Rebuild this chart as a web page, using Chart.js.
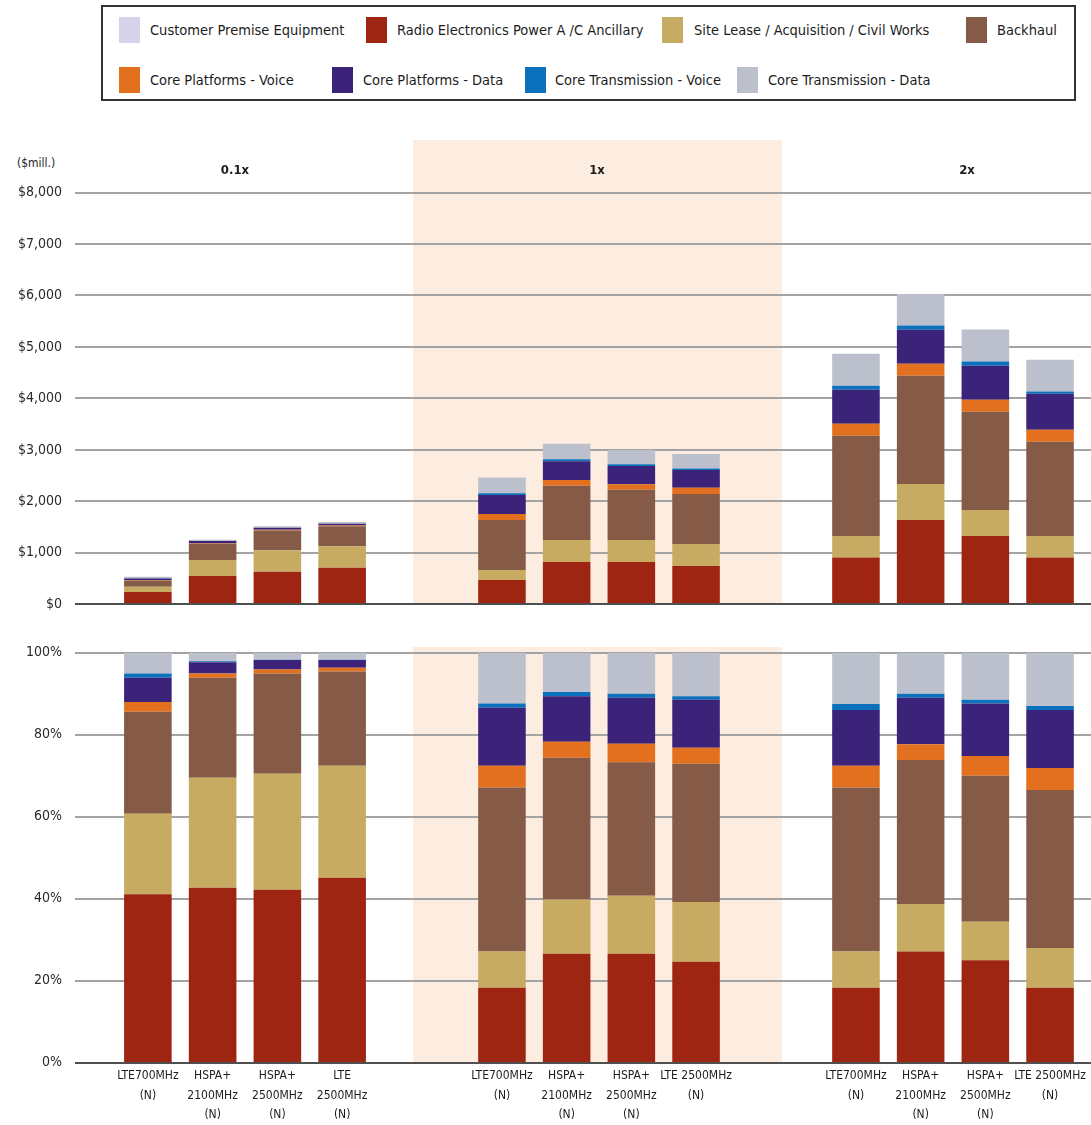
<!DOCTYPE html>
<html>
<head>
<meta charset="utf-8">
<script src="https://cdn.jsdelivr.net/npm/chart.js@4.4.1/dist/chart.umd.min.js"></script>
<style>
  html, body { margin: 0; padding: 0; background: #fff; }
  body { position: relative; width: 1091px; height: 1125px; overflow: hidden;
         font-family: 'DejaVu Sans Condensed', 'DejaVu Sans', sans-serif; color: #1c1c1c; }
  .abs { position: absolute; }
  #legendBox { left: 101px; top: 5px; width: 975px; height: 96px; border: 2px solid #333; box-sizing: border-box; }
  .sw { position: absolute; width: 21px; height: 26px; }
  .lt { position: absolute; font-size: 14.5px; line-height: 18px; white-space: nowrap; }
  .band { background: #fdece0; }
  .ghead { position: absolute; font-weight: bold; font-size: 13px; transform: translateX(-50%); white-space: nowrap; }
  canvas { position: absolute; display: block; }
</style>
</head>
<body>
<div id="legendBox" class="abs"></div>
<div class="abs band" style="left:413px;top:140px;width:369px;height:464px;"></div>
<div class="abs band" style="left:413px;top:647px;width:369px;height:417px;"></div>
<div class="abs" style="left:17px;top:155px;font-size:12px;line-height:16px;">($mill.)</div>

<canvas id="top0" width="413" height="480" style="left:0;top:140px"></canvas>
<canvas id="top1" width="369" height="480" style="left:413px;top:140px"></canvas>
<canvas id="top2" width="309" height="480" style="left:782px;top:140px"></canvas>
<canvas id="bot0" width="413" height="480" style="left:0;top:645px"></canvas>
<canvas id="bot1" width="369" height="480" style="left:413px;top:645px"></canvas>
<canvas id="bot2" width="309" height="480" style="left:782px;top:645px"></canvas>

<script>
// ---- data ----------------------------------------------------------------
const scenarios = ['0.1x', '1x', '2x'];

// four technologies per scenario (multi-line tick labels)
const technologies = [
  ['LTE700MHz', '(N)'], ['HSPA+', '2100MHz', '(N)'], ['HSPA+', '2500MHz', '(N)'], ['LTE', '2500MHz', '(N)'],
  ['LTE700MHz', '(N)'], ['HSPA+', '2100MHz', '(N)'], ['HSPA+', '2500MHz', '(N)'], ['LTE 2500MHz', '(N)'],
  ['LTE700MHz', '(N)'], ['HSPA+', '2100MHz', '(N)'], ['HSPA+', '2500MHz', '(N)'], ['LTE 2500MHz', '(N)']
];

const seriesNames = [
  'Customer Premise Equipment', 'Radio Electronics Power A /C Ancillary', 'Site Lease / Acquisition / Civil Works',
  'Backhaul', 'Core Platforms - Voice', 'Core Platforms - Data', 'Core Transmission - Voice', 'Core Transmission - Data'
];

const dollarTicks = [0, 1000, 2000, 3000, 4000, 5000, 6000, 7000, 8000];
const shareTicks = [0, 20, 40, 60, 80, 100];

// cost in $ millions, 12 bars: 0.1x (4), 1x (4), 2x (4)
const cpeCost        = [0, 0, 0, 0, 0, 0, 0, 0, 0, 0, 0, 0];
const radioCost      = [240, 550, 630, 710, 473, 823, 823, 745, 907, 1639, 1328, 907];
const siteCost       = [100, 310, 420, 420, 194, 428, 428, 428, 421, 700, 506, 421];
const backhaulCost   = [120, 320, 385, 385, 973, 1051, 972, 972, 1944, 2100, 1905, 1828];
const coreVoiceCost  = [12, 13, 15, 15, 116, 115, 110, 117, 234, 233, 233, 233];
const coreDataCost   = [30, 35, 35, 35, 369, 363, 356, 349, 661, 661, 661, 700];
const transVoiceCost = [5, 3, 2, 2, 33, 39, 30, 26, 77, 84, 84, 45];
const transDataCost  = [28, 25, 30, 30, 304, 298, 281, 285, 622, 609, 623, 616];

// share of total cost, %
const cpeShare        = [0, 0, 0, 0, 0, 0, 0, 0, 0, 0, 0, 0];
const radioShare      = [41.1, 42.7, 42.2, 45.1, 18.3, 26.6, 26.6, 24.6, 18.3, 27.1, 25.0, 18.3];
const siteShare       = [19.6, 26.8, 28.3, 27.3, 8.8, 13.2, 14.1, 14.6, 8.8, 11.6, 9.4, 9.7];
const backhaulShare   = [24.9, 24.4, 24.4, 23.0, 40.0, 34.6, 32.6, 33.7, 40.0, 35.1, 35.6, 38.5];
const coreVoiceShare  = [2.4, 1.0, 1.0, 0.9, 5.3, 3.9, 4.5, 3.9, 5.3, 3.9, 4.8, 5.4];
const coreDataShare   = [5.9, 2.8, 2.3, 1.9, 14.2, 11.1, 11.2, 11.7, 13.6, 11.3, 12.8, 14.1];
const transVoiceShare = [1.0, 0.2, 0.1, 0.1, 1.0, 1.0, 1.0, 0.9, 1.5, 1.0, 0.9, 1.0];
const transDataShare  = [5.1, 2.1, 1.7, 1.7, 12.4, 9.6, 10.0, 10.6, 12.5, 10.0, 11.5, 13.0];

// ---- styling ---------------------------------------------------------------
const FONT = "'DejaVu Sans Condensed', 'DejaVu Sans', sans-serif";
const colors = {
  cpe: '#d5d3e9', radio: '#9d2511', site: '#c8ab63', backhaul: '#855a46',
  coreVoice: '#e2701f', coreData: '#3b2379', transVoice: '#0b71bc', transData: '#bbc0cc'
};
const legendColors = [colors.cpe, colors.radio, colors.site, colors.backhaul,
                      colors.coreVoice, colors.coreData, colors.transVoice, colors.transData];

// stacking order, bottom to top
const costSeries = [
  { name: seriesNames[1], data: radioCost, color: colors.radio },
  { name: seriesNames[2], data: siteCost, color: colors.site },
  { name: seriesNames[3], data: backhaulCost, color: colors.backhaul },
  { name: seriesNames[4], data: coreVoiceCost, color: colors.coreVoice },
  { name: seriesNames[5], data: coreDataCost, color: colors.coreData },
  { name: seriesNames[6], data: transVoiceCost, color: colors.transVoice },
  { name: seriesNames[7], data: transDataCost, color: colors.transData },
  { name: seriesNames[0], data: cpeCost, color: colors.cpe }
];
const shareSeries = [
  { name: seriesNames[1], data: radioShare, color: colors.radio },
  { name: seriesNames[2], data: siteShare, color: colors.site },
  { name: seriesNames[3], data: backhaulShare, color: colors.backhaul },
  { name: seriesNames[4], data: coreVoiceShare, color: colors.coreVoice },
  { name: seriesNames[5], data: coreDataShare, color: colors.coreData },
  { name: seriesNames[6], data: transVoiceShare, color: colors.transVoice },
  { name: seriesNames[7], data: transDataShare, color: colors.transData },
  { name: seriesNames[0], data: cpeShare, color: colors.cpe }
];

// ---- legend box --------------------------------------------------------------
const legendSlots = [
  { sx: 119, tx: 150, cy: 30 }, { sx: 366, tx: 397, cy: 30 }, { sx: 662, tx: 694, cy: 30 }, { sx: 966, tx: 997, cy: 30 },
  { sx: 119, tx: 150, cy: 80 }, { sx: 332, tx: 363, cy: 80 }, { sx: 525, tx: 555, cy: 80 }, { sx: 737, tx: 768, cy: 80 }
];
seriesNames.forEach((name, i) => {
  const s = legendSlots[i];
  const sw = document.createElement('div');
  sw.className = 'sw';
  sw.style.left = s.sx + 'px'; sw.style.top = (s.cy - 13) + 'px';
  sw.style.background = legendColors[i];
  document.body.appendChild(sw);
  const t = document.createElement('div');
  t.className = 'lt';
  t.style.left = s.tx + 'px'; t.style.top = (s.cy - 9) + 'px';
  t.textContent = name;
  document.body.appendChild(t);
});

// scenario headers
const headerX = [235, 597, 967];
scenarios.forEach((name, g) => {
  const h = document.createElement('div');
  h.className = 'ghead';
  h.style.left = headerX[g] + 'px'; h.style.top = '162px';
  h.textContent = name;
  document.body.appendChild(h);
});

// ---- charts ------------------------------------------------------------------
// horizontal rules drawn across the whole canvas width, from the y scale
const ruleLines = {
  id: 'ruleLines',
  beforeDatasetsDraw(chart, args, opts) {
    const y = chart.scales.y, ctx = chart.ctx;
    ctx.save();
    ctx.lineWidth = 2;
    ctx.strokeStyle = '#a3a3a3';
    opts.values.forEach(v => {
      if (v === 0) return;
      const py = Math.round(y.getPixelForValue(v));
      ctx.beginPath(); ctx.moveTo(opts.from, py); ctx.lineTo(chart.width, py); ctx.stroke();
    });
    ctx.restore();
  },
  afterDatasetsDraw(chart, args, opts) {
    const y = chart.scales.y, ctx = chart.ctx;
    const py = Math.round(y.getPixelForValue(0));
    ctx.save();
    ctx.lineWidth = 2;
    ctx.strokeStyle = '#4f4f4f';
    ctx.beginPath(); ctx.moveTo(opts.from, py); ctx.lineTo(chart.width, py); ctx.stroke();
    ctx.restore();
  }
};

// per-scenario geometry: left axis width / padding so bars sit on a 64.7px pitch
const geom = [
  { axisW: 115.5, padL: 0, padR: 38.5, from: 75 },
  { axisW: 0, padL: 56.6, padR: 53.6, from: 0 },
  { axisW: 0, padL: 41.6, padR: 8.6, from: 0 }
];

function makeChart(id, g, series, panel) {
  const isTop = panel === 'top';
  const ticks = isTop ? dollarTicks : shareTicks;
  const lo = g * 4, hi = lo + 4;
  const G = geom[g];
  new Chart(document.getElementById(id), {
    type: 'bar',
    data: {
      labels: technologies.slice(lo, hi),
      datasets: series.map(s => ({
        label: s.name,
        data: s.data.slice(lo, hi),
        backgroundColor: s.color,
        borderWidth: 0,
        categoryPercentage: 1,
        barPercentage: 0.735
      }))
    },
    options: {
      responsive: false,
      animation: false,
      devicePixelRatio: 1,
      layout: { padding: { left: G.padL, right: G.padR, top: isTop ? 52.5 : 7.7, bottom: isTop ? 15.7 : 0 } },
      plugins: {
        legend: { display: false },
        tooltip: { enabled: false },
        ruleLines: { values: ticks, from: G.from }
      },
      scales: {
        x: {
          stacked: true,
          display: !isTop,
          grid: { display: false, drawTicks: false },
          border: { display: false },
          ticks: {
            autoSkip: false, maxRotation: 0, padding: 4, color: '#1c1c1c',
            font: { family: FONT, size: 12, lineHeight: 1.6 }
          },
          afterFit(s) {
            s.height = isTop ? 0 : 62.3;
            s.paddingLeft = 0; s.paddingRight = 0;
          }
        },
        y: {
          stacked: true,
          min: 0,
          max: isTop ? 8000 : 100,
          grid: { display: false, drawTicks: false },
          border: { display: false },
          afterBuildTicks(s) { s.ticks = ticks.map(v => ({ value: v })); },
          ticks: {
            display: g === 0,
            padding: 115.5 - 62,
            color: '#2a2a2a',
            font: { family: FONT, size: 14 },
            callback: v => isTop ? '$' + v.toLocaleString('en-US') : v + '%'
          },
          afterFit(s) {
            s.width = G.axisW;
            s.paddingTop = 0; s.paddingBottom = 0;
          }
        }
      }
    },
    plugins: [ruleLines]
  });
}

for (let g = 0; g < 3; g++) {
  makeChart('top' + g, g, costSeries, 'top');
  makeChart('bot' + g, g, shareSeries, 'bottom');
}
</script>
</body>
</html>
